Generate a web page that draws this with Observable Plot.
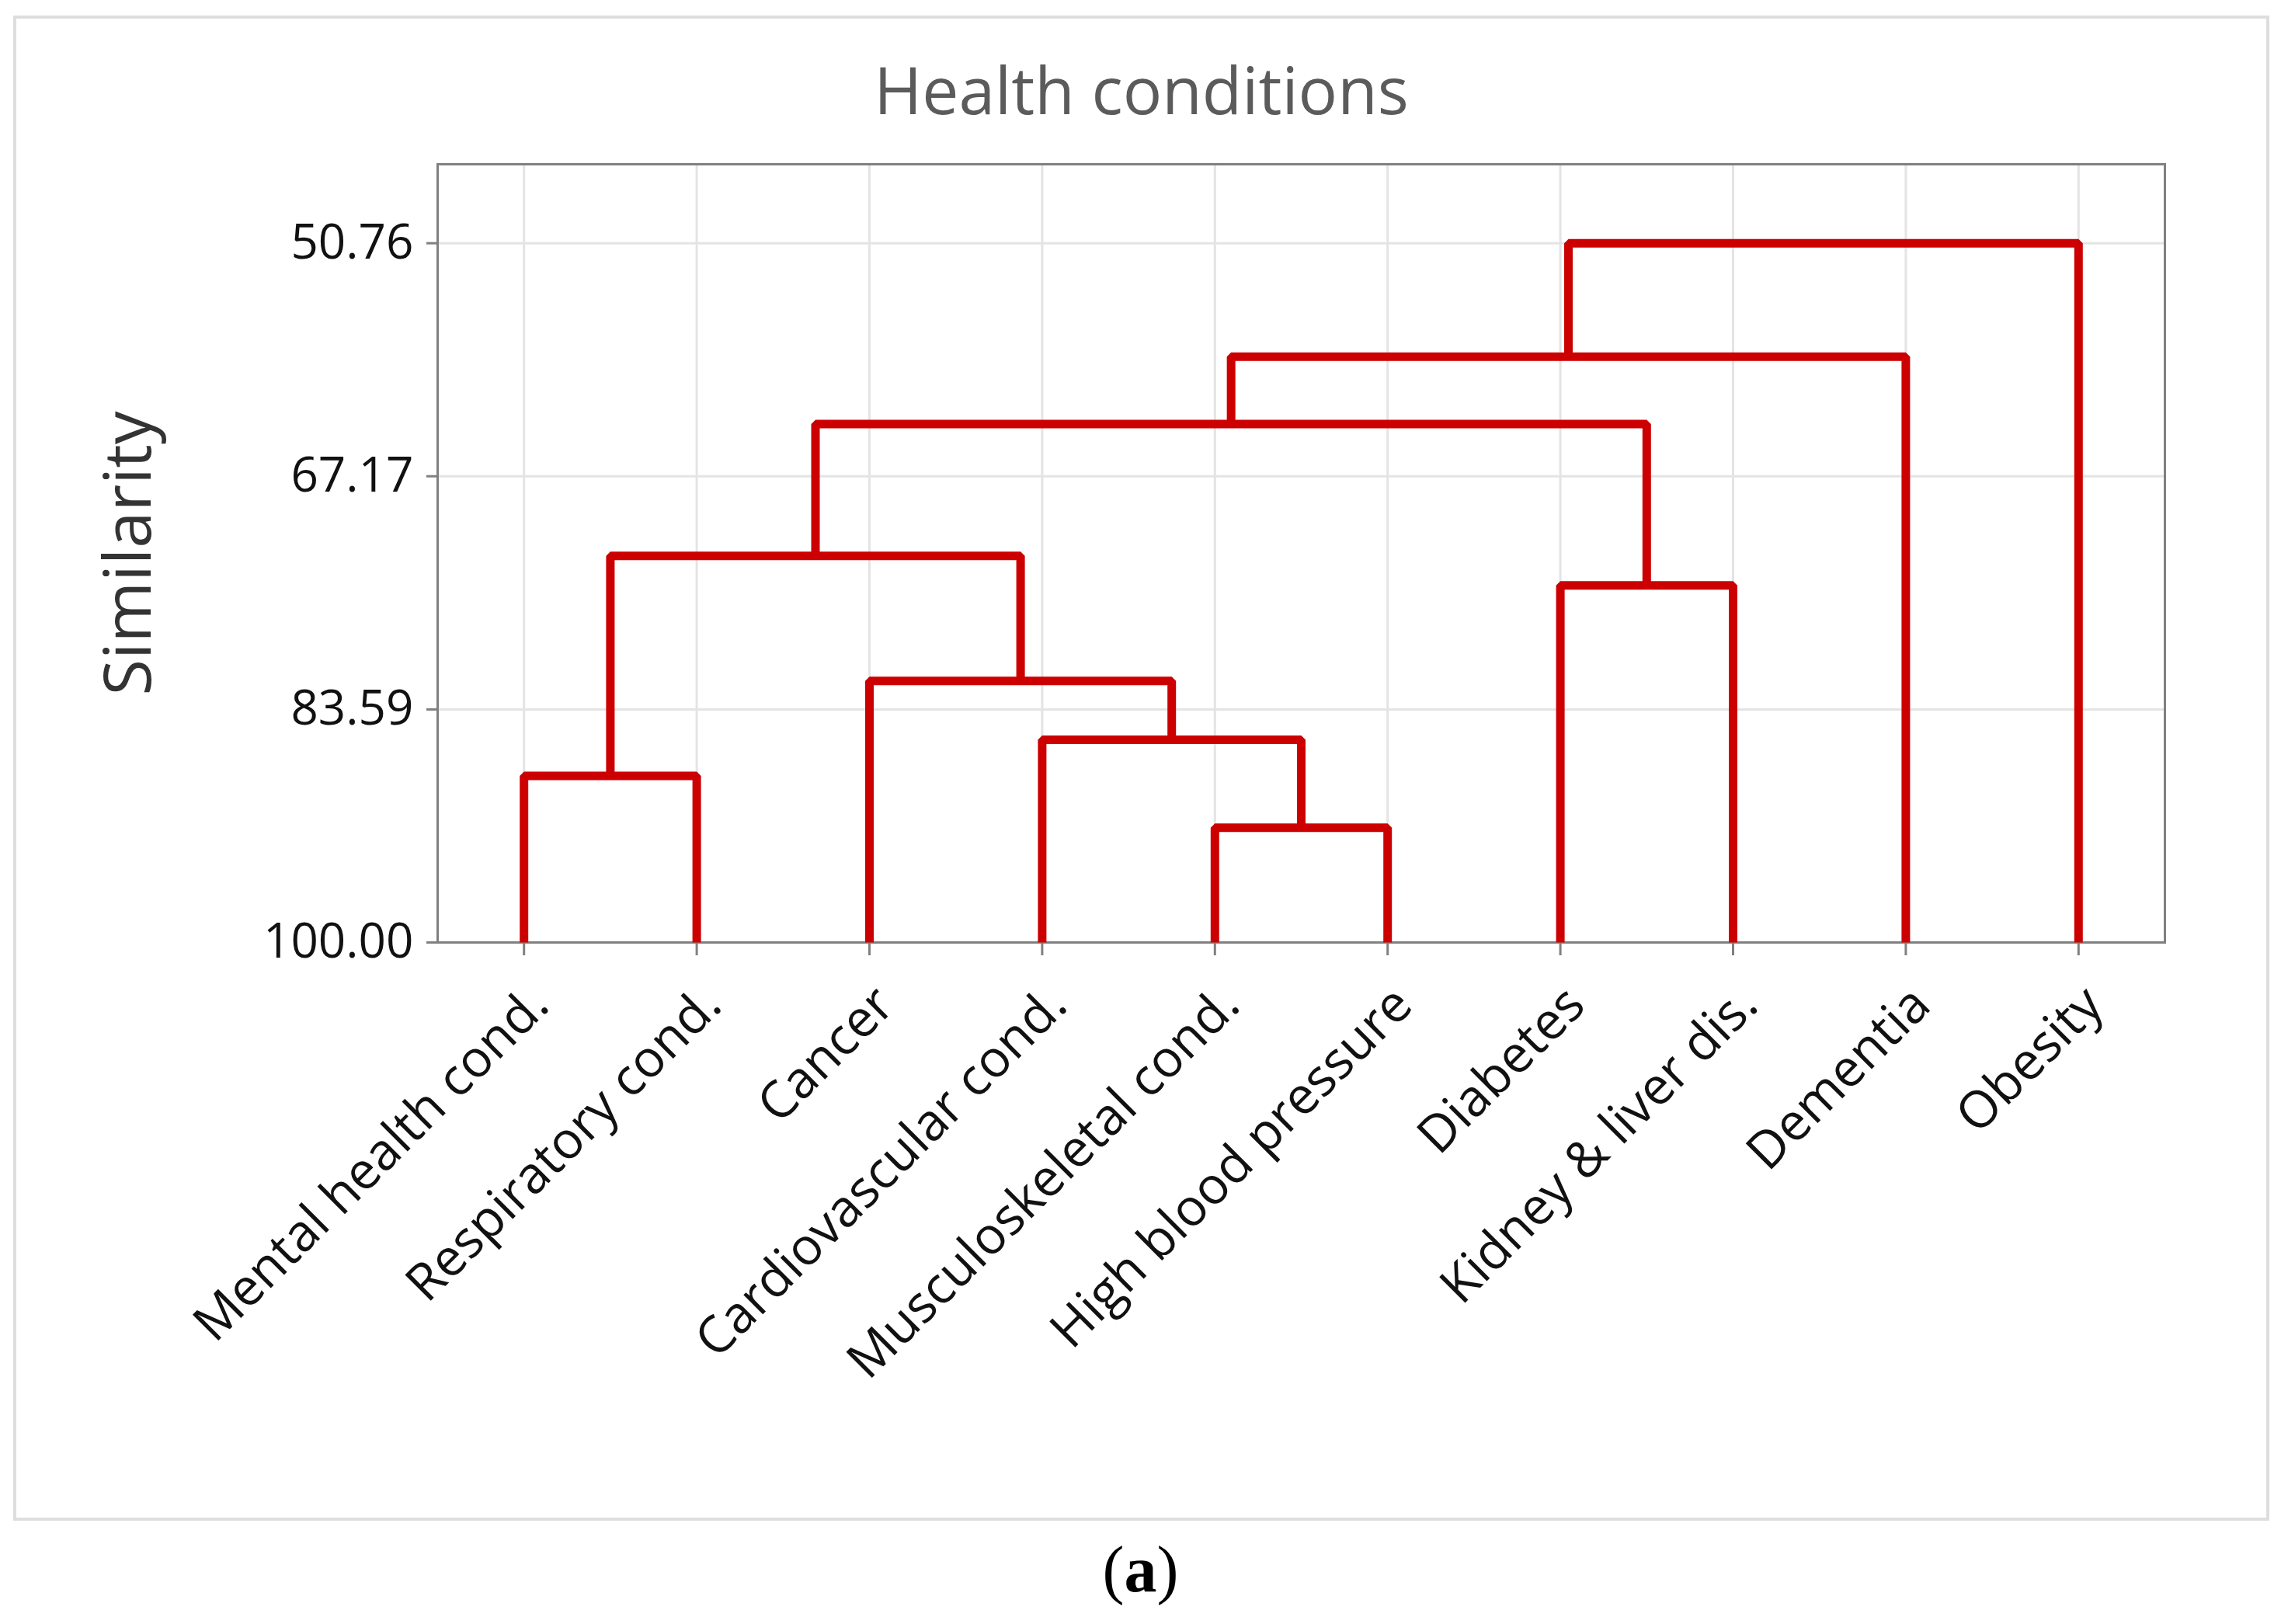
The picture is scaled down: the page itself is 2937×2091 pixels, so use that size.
<!DOCTYPE html>
<html>
<head>
<meta charset="utf-8">
<script src="https://cdn.jsdelivr.net/npm/d3@7"></script>
<script src="https://cdn.jsdelivr.net/npm/@observablehq/plot@0.6"></script>
<style>
  html, body { margin: 0; padding: 0; background: #fff; }
  body { width: 2937px; height: 2091px; position: relative; overflow: hidden; }
  #box { position: absolute; left: 17px; top: 20px; width: 2905px; height: 1938px;
         border: 4px solid #dedede; box-sizing: border-box; background: #fff; }
  #title { height: 150px; box-sizing: border-box; padding-top: 49px; line-height: 1;
           text-align: center; font-family: "Open Sans", sans-serif; font-size: 84px; color: #5b5b5b; }
  #box svg { display: block; }
  #caption { position: absolute; left: 0; top: 1979px; width: 2937px; text-align: center;
             font-family: "Liberation Serif", serif; font-size: 84px; line-height: 1; color: #000; }
</style>
</head>
<body>
<div id="box"><div id="title">Health conditions</div></div>
<div id="caption">(<b>a</b>)</div>
<script>
// Leaves in dendrogram order
const leaves = ["Mental health cond.", "Respiratory cond.", "Cancer", "Cardiovascular cond.",
  "Musculoskeletal cond.", "High blood pressure", "Diabetes", "Kidney & liver dis.", "Dementia", "Obesity"];
// Linkage: leaves are nodes 0..9, each merge k creates node 10+k
const linkLeft   = [4, 0, 3, 2, 6, 11, 15, 16, 17];
const linkRight  = [5, 1, 10, 12, 7, 13, 14, 8, 9];
const linkLevel  = [91.92, 88.27, 85.72, 81.58, 74.86, 72.78, 63.50, 58.75, 50.76];
const yTicks = [50.76, 67.17, 83.59, 100.00];
const leafLevel = 100;

// node positions (x in leaf-index units, y in similarity)
const nodeX = leaves.map((d, i) => i);
const nodeY = leaves.map(() => leafLevel);
const segs = [];
linkLeft.forEach((l, k) => {
  const r = linkRight[k], h = linkLevel[k];
  segs.push({id: k, x: nodeX[l], y: nodeY[l]});
  segs.push({id: k, x: nodeX[l], y: h});
  segs.push({id: k, x: nodeX[r], y: h});
  segs.push({id: k, x: nodeX[r], y: nodeY[r]});
  nodeX.push((nodeX[l] + nodeX[r]) / 2);
  nodeY.push(h);
});

const leafIdx = leaves.map((d, i) => i);

const chart = Plot.plot({
  width: 2897,
  height: 1780,
  marginLeft: 542,
  marginRight: 131,
  marginTop: 37,
  marginBottom: 741,
  style: {fontFamily: "'Open Sans', sans-serif", fontSize: "62px", color: "#111", background: "#fff", overflow: "visible"},
  x: {type: "linear", domain: [-0.5, leaves.length - 0.5]},
  y: {type: "linear", domain: [100, 45.2]},
  marks: [
    Plot.gridX({ticks: leafIdx, stroke: "#e4e4e4", strokeOpacity: 1, strokeWidth: 3}),
    Plot.gridY({ticks: yTicks, stroke: "#e4e4e4", strokeOpacity: 1, strokeWidth: 3}),
    Plot.frame({stroke: "#808080", strokeWidth: 3}),
    Plot.axisX({ticks: leafIdx, tickSize: 17, stroke: "#808080", strokeWidth: 3, fill: null, label: null, tickFormat: () => ""}),
    Plot.axisY({ticks: yTicks, tickSize: 14, tickPadding: 17, stroke: "#808080", strokeWidth: 3,
      fill: "#111", fontSize: 62, label: null, tickFormat: d3.format(".2f")}),
    Plot.line(segs, {x: "x", y: "y", z: "id", stroke: "#cc0000", strokeWidth: 11,
      strokeLinejoin: "miter", strokeLinecap: "butt", curve: "linear"}),
    Plot.text(leaves, {x: (d, i) => i, frameAnchor: "bottom", text: d => d, rotate: -45,
      textAnchor: "end", lineAnchor: "bottom", dx: 35, dy: 84, fontSize: 66, fill: "#111"}),
    Plot.text(["Similarity"], {frameAnchor: "left", text: d => d, rotate: -90, textAnchor: "middle",
      lineAnchor: "bottom", dx: -370, fontSize: 85, fill: "#333"})
  ]
});
document.getElementById("box").appendChild(chart);
</script>
</body>
</html>
